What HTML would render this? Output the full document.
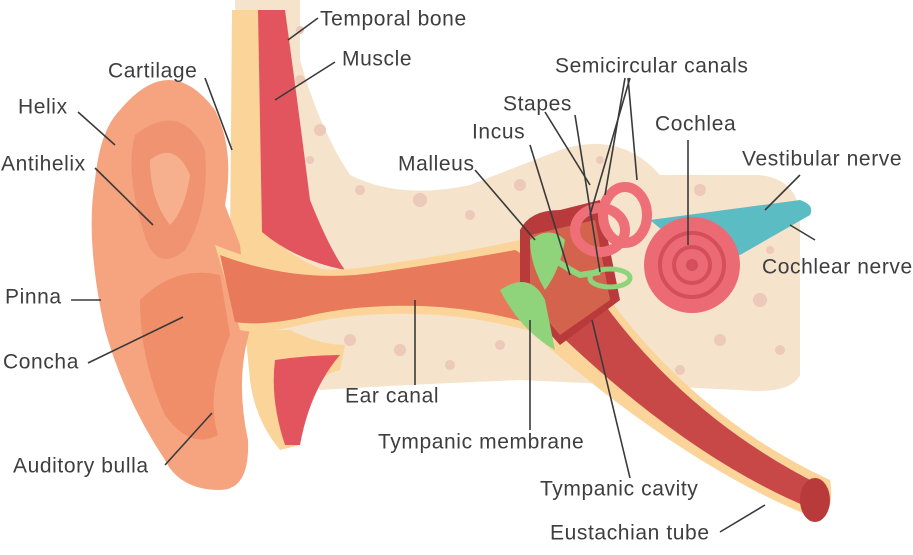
<!DOCTYPE html>
<html><head><meta charset="utf-8"><style>
html,body{margin:0;padding:0;background:#fff;}
svg{display:block;}
text{font-family:"Liberation Sans",sans-serif;font-size:21px;letter-spacing:0.6px;fill:#3e3e3e;dominant-baseline:middle;}
line{stroke:#3a3a3a;stroke-width:1.6;}
</style></head><body>
<svg width="913" height="555" viewBox="0 0 913 555">
<!-- bone -->
<path d="M235 0 L300 0 L300 60 Q320 130 350 175 Q400 200 470 185 L560 150 Q620 130 660 175 L760 175 Q800 180 800 220 L800 375 Q790 395 740 390 L520 380 Q400 385 320 390 L270 330 L240 240 Z" fill="#f5e3cc"/>
<g fill="#ecc9b8">
<circle cx="300" cy="80" r="5"/><circle cx="320" cy="130" r="6"/><circle cx="360" cy="190" r="5"/><circle cx="420" cy="200" r="7"/><circle cx="470" cy="215" r="5"/><circle cx="520" cy="185" r="6"/><circle cx="600" cy="160" r="4"/><circle cx="700" cy="190" r="6"/><circle cx="760" cy="300" r="7"/><circle cx="780" cy="350" r="5"/><circle cx="720" cy="340" r="6"/><circle cx="680" cy="370" r="5"/><circle cx="400" cy="350" r="6"/><circle cx="450" cy="365" r="5"/><circle cx="350" cy="340" r="6"/><circle cx="500" cy="345" r="5"/><circle cx="290" cy="200" r="5"/><circle cx="300" cy="30" r="4"/><circle cx="310" cy="160" r="4"/><circle cx="640" cy="360" r="5"/><circle cx="770" cy="250" r="4"/>
</g>
<!-- cartilage strip -->
<path d="M232 10 L262 10 L262 230 Q300 265 340 275 L330 300 Q270 290 230 250 Z" fill="#fbd49a"/>
<!-- muscle -->
<path d="M258 10 L285 10 Q300 120 310 200 Q330 250 345 270 Q295 260 262 232 Z" fill="#e2555f"/>
<!-- lower muscle/cartilage -->
<path d="M245 330 L290 330 Q320 345 345 345 L340 370 Q300 380 300 445 L280 450 Q255 420 250 380 Z" fill="#fbd49a"/>
<path d="M275 360 Q310 355 340 355 Q310 390 300 445 L285 445 Q270 400 275 360 Z" fill="#e2555f"/>
<!-- pinna -->
<path d="M120 110 Q170 50 215 110 Q235 150 225 205 L240 245 L250 330 Q235 380 248 440 Q250 490 220 490 Q180 490 165 460 Q125 400 105 330 Q85 240 95 180 Q100 130 120 110 Z" fill="#f5a47f"/>
<path d="M135 135 Q180 100 205 150 Q210 210 185 250 Q155 275 143 230 Q125 170 135 135 Z" fill="#ef9371"/>
<path d="M150 160 Q175 140 190 175 Q185 210 170 225 Q150 200 150 160 Z" fill="#f7b08e"/>
<path d="M140 300 Q175 265 220 275 L230 335 Q205 395 218 435 Q190 450 165 415 Q140 360 140 300 Z" fill="#ef8e68"/>
<!-- canal -->
<path d="M215 245 Q300 280 380 265 Q450 255 520 240 L560 260 L560 340 Q500 320 440 315 Q360 310 300 325 Q260 335 240 330 Z" fill="#fbd49a"/>
<path d="M220 255 Q300 285 380 272 Q450 262 515 250 L550 270 L550 330 Q500 312 440 307 Q360 302 300 318 Q260 326 235 322 Z" fill="#e8795a"/>
<!-- eustachian tube -->
<path d="M540 320 L610 300 Q700 420 830 480 Q835 510 820 520 Q690 470 540 340 Z" fill="#fbd49a"/>
<path d="M555 320 L605 305 Q690 420 820 485 L815 510 Q690 460 555 330 Z" fill="#c84848"/>
<ellipse cx="815" cy="500" rx="15" ry="22" fill="#b83a3a"/>
<!-- middle ear -->
<path d="M520 230 Q530 210 560 210 L600 200 L620 300 L560 345 L520 300 Z" fill="#b83a3a"/>
<path d="M530 235 L595 220 L610 300 L560 335 L530 300 Z" fill="#d4634e"/>
<!-- ossicles & membrane -->
<path d="M500 290 Q530 270 545 300 L555 350 Q520 330 500 290 Z" fill="#8fd47a"/>
<path d="M530 240 Q550 225 565 240 Q560 270 545 290 Q530 265 530 240 Z" fill="#8fd47a"/>
<path d="M555 260 Q570 270 580 275 L600 272" stroke="#8fd47a" stroke-width="6" fill="none"/>
<ellipse cx="610" cy="278" rx="20" ry="9" fill="none" stroke="#8fd47a" stroke-width="5"/>
<!-- semicircular canals -->
<g fill="none" stroke="#ef6f78" stroke-width="10">
<ellipse cx="625" cy="215" rx="22" ry="28"/>
<ellipse cx="600" cy="230" rx="25" ry="22"/>
</g>
<!-- nerves -->
<path d="M650 220 L800 200 Q815 205 810 215 L740 255 L680 245 Z" fill="#5cbcc4"/>
<!-- cochlea -->
<circle cx="692" cy="265" r="48" fill="#ec6a73"/>
<circle cx="692" cy="265" r="32" fill="none" stroke="#d44e5c" stroke-width="4"/>
<circle cx="692" cy="265" r="18" fill="none" stroke="#d44e5c" stroke-width="4"/>
<circle cx="692" cy="265" r="6" fill="#d44e5c"/>
<!-- leader lines -->
<line x1="318" y1="18" x2="288" y2="40"/>
<line x1="335" y1="62" x2="275" y2="100"/>
<line x1="205" y1="78" x2="232" y2="150"/>
<line x1="78" y1="112" x2="115" y2="145"/>
<line x1="95" y1="168" x2="153" y2="225"/>
<line x1="545" y1="112" x2="590" y2="185"/>
<line x1="625" y1="78" x2="605" y2="195"/>
<line x1="628" y1="78" x2="637" y2="180"/>
<line x1="630" y1="78" x2="590" y2="215"/>
<line x1="575" y1="115" x2="600" y2="272"/>
<line x1="530" y1="145" x2="570" y2="275"/>
<line x1="475" y1="170" x2="535" y2="240"/>
<line x1="688" y1="140" x2="688" y2="245"/>
<line x1="800" y1="175" x2="765" y2="210"/>
<line x1="815" y1="240" x2="790" y2="225"/>
<line x1="71" y1="300" x2="101" y2="300"/>
<line x1="88" y1="363" x2="183" y2="317"/>
<line x1="415" y1="385" x2="415" y2="300"/>
<line x1="530" y1="430" x2="530" y2="320"/>
<line x1="630" y1="478" x2="592" y2="320"/>
<line x1="720" y1="532" x2="765" y2="505"/>
<line x1="165" y1="465" x2="212" y2="413"/>
<!-- labels -->
<text x="320" y="20">Temporal bone</text>
<text x="342" y="60">Muscle</text>
<text x="108" y="72">Cartilage</text>
<text x="555" y="67">Semicircular canals</text>
<text x="18" y="108">Helix</text>
<text x="503" y="105">Stapes</text>
<text x="655" y="125">Cochlea</text>
<text x="472" y="133">Incus</text>
<text x="1" y="165">Antihelix</text>
<text x="398" y="165">Malleus</text>
<text x="742" y="160">Vestibular nerve</text>
<text x="762" y="268">Cochlear nerve</text>
<text x="5" y="298">Pinna</text>
<text x="3" y="363">Concha</text>
<text x="345" y="397">Ear canal</text>
<text x="378" y="443">Tympanic membrane</text>
<text x="13" y="467">Auditory bulla</text>
<text x="540" y="490">Tympanic cavity</text>
<text x="550" y="534">Eustachian tube</text>
</svg>
</body></html>
